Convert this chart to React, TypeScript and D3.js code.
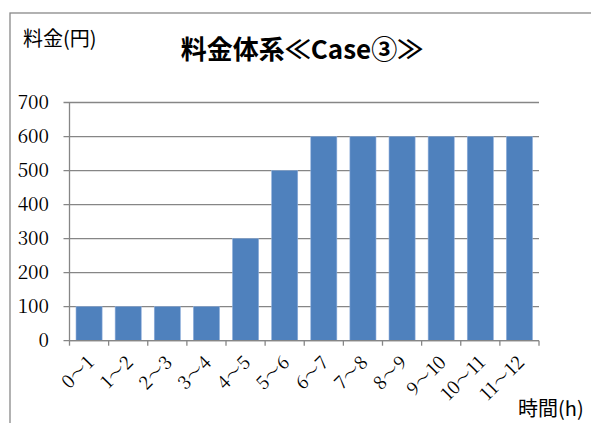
import React from "react";
import * as d3 from "d3";

const categories = ["0～1", "1～2", "2～3", "3～4", "4～5", "5～6", "6～7", "7～8", "8～9", "9～10", "10～11", "11～12"];
const values = [100, 100, 100, 100, 300, 500, 600, 600, 600, 600, 600, 600];
const yTicks = [0, 100, 200, 300, 400, 500, 600, 700];
const titleText = "料金体系≪Case③≫";
const yTitle = "料金(円)";
const xTitle = "時間(h)";

const W = 591;
const H = 423;
const plot = { left: 69.5, right: 539, top: 102.5, bottom: 340.7 };

export default function App() {
  const x = d3.scaleBand<string>().domain(categories).range([plot.left, plot.right]).paddingInner(1 / 3).paddingOuter(1 / 6);
  const xStep = d3.scaleBand<string>().domain(categories).range([plot.left, plot.right]);
  const y = d3.scaleLinear().domain([0, 700]).range([plot.bottom, plot.top]);
  const grid = "#868686";
  const serif = { fontFamily: '"Noto Serif CJK JP"' };
  const gothic = { fontFamily: '"Noto Sans CJK JP"' };
  return (
    <svg width={W} height={H} style={{ position: "absolute", left: 0, top: 0, background: "#fff" }}>
      <rect x={10} y={13} width={W} height={H} fill="#fff" stroke="#898989" strokeWidth={1.3} />
      <text x={302} y={59} textAnchor="middle" style={gothic} fontWeight="bold" fontSize={26} fill="#000">{titleText}</text>
      <text x={23} y={46} style={gothic} fontSize={20} fill="#000">{yTitle}</text>
      <text x={518} y={416} style={gothic} fontSize={20} fill="#000">{xTitle}</text>
      {yTicks.map((t) => (
        <g key={t}>
          <line x1={plot.left - 6} x2={plot.right} y1={y(t)} y2={y(t)} stroke={grid} strokeWidth={1.3} />
          <text x={49} y={y(t)} dy="0.35em" textAnchor="end" style={serif} fontSize={19} fill="#000">{t}</text>
        </g>
      ))}
      {categories.map((c, i) => (
        <rect key={c} x={x(c)} y={y(values[i])} width={x.bandwidth()} height={y(0) - y(values[i])} fill="#4F81BD" stroke="#8EAEDB" strokeWidth={0.6} />
      ))}
      <line x1={plot.left} x2={plot.left} y1={plot.top} y2={plot.bottom} stroke={grid} strokeWidth={1.3} />
      <line x1={plot.left} x2={plot.right} y1={plot.bottom} y2={plot.bottom} stroke={grid} strokeWidth={1.3} />
      {[...categories.map((c) => xStep(c) as number), plot.right].map((px, i) => (
        <line key={i} x1={px} x2={px} y1={plot.bottom} y2={plot.bottom + 5} stroke={grid} strokeWidth={1.3} />
      ))}
      {categories.map((c) => {
        const cx = (x(c) as number) + x.bandwidth() / 2 + 6;
        const cy = plot.bottom + 23;
        return (
          <text key={c} transform={`translate(${cx},${cy}) rotate(-45)`} textAnchor="end" style={serif} fontSize={18} fill="#000">{c}</text>
        );
      })}
    </svg>
  );
}
